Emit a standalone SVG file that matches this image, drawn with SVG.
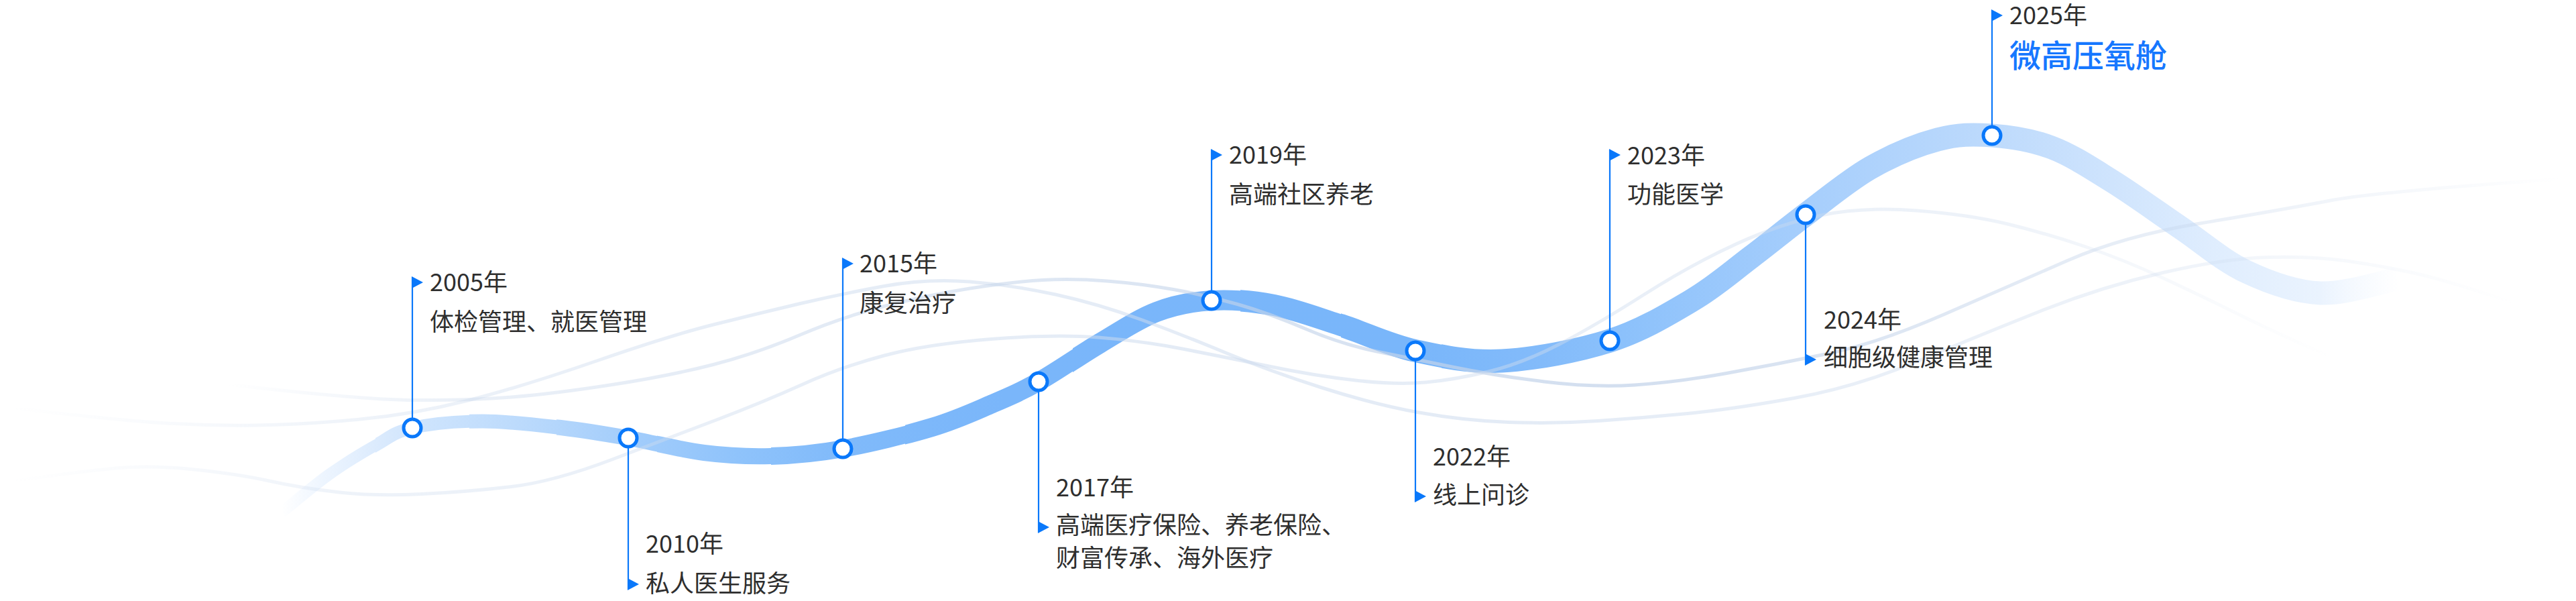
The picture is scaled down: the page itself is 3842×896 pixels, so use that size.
<svg xmlns="http://www.w3.org/2000/svg" width="3842" height="896" viewBox="0 0 3842 896">
<style>
  .t{font-family:"Noto Sans CJK SC","Noto Sans",sans-serif;font-size:36px;fill:#2e2e2e;}
  .ttl{font-family:"Noto Sans CJK SC","Noto Sans",sans-serif;font-size:47px;fill:#1677ff;font-weight:500;}
  .stem{stroke:#0a78fa;stroke-width:2.2;fill:none;}
  .dot{fill:#ffffff;stroke:#0a78fa;stroke-width:5;}
  .flag{fill:#0a78fa;}
  .bg{fill:none;stroke-width:5;stroke-linecap:round;}
</style>
<defs>
  <linearGradient id="gBand" gradientUnits="userSpaceOnUse" x1="420" y1="0" x2="3580" y2="0">
    <stop offset="0" stop-color="#e1eefe" stop-opacity="0"/>
    <stop offset="0.02" stop-color="#e1eefe" stop-opacity="0.6"/>
    <stop offset="0.044" stop-color="#dcebfd"/>
    <stop offset="0.062" stop-color="#d0e5fd"/>
    <stop offset="0.114" stop-color="#bbdafc"/>
    <stop offset="0.164" stop-color="#a3cdfb"/>
    <stop offset="0.215" stop-color="#8fc3fb"/>
    <stop offset="0.265" stop-color="#80bafa"/>
    <stop offset="0.342" stop-color="#7ab6fa"/>
    <stop offset="0.535" stop-color="#79b6fa"/>
    <stop offset="0.595" stop-color="#83bbfa"/>
    <stop offset="0.627" stop-color="#8ac0fb"/>
    <stop offset="0.719" stop-color="#a6cefc"/>
    <stop offset="0.807" stop-color="#bddafc"/>
    <stop offset="0.864" stop-color="#cfe4fd"/>
    <stop offset="0.911" stop-color="#dfedfe"/>
    <stop offset="0.962" stop-color="#eaf3fe"/>
    <stop offset="1" stop-color="#f2f8ff" stop-opacity="0"/>
  </linearGradient>
  <linearGradient id="gU1" gradientUnits="userSpaceOnUse" x1="18" y1="0" x2="3750" y2="0">
    <stop offset="0" stop-color="#cddbee" stop-opacity="0"/>
    <stop offset="0.06" stop-color="#cddbee" stop-opacity="0.12"/>
    <stop offset="0.15" stop-color="#cddbee" stop-opacity="0.35"/>
    <stop offset="0.3" stop-color="#cddbee" stop-opacity="0.5"/>
    <stop offset="0.6" stop-color="#cddbee" stop-opacity="0.55"/>
    <stop offset="0.85" stop-color="#cddbee" stop-opacity="0.35"/>
    <stop offset="1" stop-color="#cddbee" stop-opacity="0"/>
  </linearGradient>
  <linearGradient id="gU2" gradientUnits="userSpaceOnUse" x1="339" y1="0" x2="3818" y2="0">
    <stop offset="0" stop-color="#c4d4ea" stop-opacity="0"/>
    <stop offset="0.1" stop-color="#c4d4ea" stop-opacity="0.35"/>
    <stop offset="0.4" stop-color="#c4d4ea" stop-opacity="0.6"/>
    <stop offset="0.6" stop-color="#c4d4ea" stop-opacity="0.75"/>
    <stop offset="0.85" stop-color="#c4d4ea" stop-opacity="0.35"/>
    <stop offset="1" stop-color="#c4d4ea" stop-opacity="0"/>
  </linearGradient>
  <linearGradient id="gU3" gradientUnits="userSpaceOnUse" x1="18" y1="0" x2="3476" y2="0">
    <stop offset="0" stop-color="#cddbee" stop-opacity="0"/>
    <stop offset="0.06" stop-color="#cddbee" stop-opacity="0.12"/>
    <stop offset="0.15" stop-color="#cddbee" stop-opacity="0.35"/>
    <stop offset="0.5" stop-color="#cddbee" stop-opacity="0.55"/>
    <stop offset="0.85" stop-color="#cddbee" stop-opacity="0.35"/>
    <stop offset="1" stop-color="#cddbee" stop-opacity="0"/>
  </linearGradient>
  <path id="ribbon" d="M420,764 C431.7,754.7 466.7,724.7 490,708 C513.3,691.3 539.2,675.7 560,664 C580.8,652.3 588.3,644 615,638 C641.7,632 682.5,628 720,628 C757.5,628 803.8,633.8 840,638 C876.2,642.2 902,646.8 937,653 C972,659.2 1014.5,670.5 1050,675 C1085.5,679.5 1115.5,681 1150,680 C1184.5,679 1217,676.2 1257,669 C1297,661.8 1352.8,648.2 1390,637 C1427.2,625.8 1453.5,613.3 1480,602 C1506.5,590.7 1522.3,584 1549,569 C1575.7,554 1610.7,529.3 1640,512 C1669.3,494.7 1697.2,475.7 1725,465 C1752.8,454.3 1777.8,449.7 1807,448 C1836.2,446.3 1867.8,448.8 1900,455 C1932.2,461.2 1964.8,473.7 2000,485 C2035.2,496.3 2071,514.2 2111,523 C2151,531.8 2191.7,540.5 2240,538 C2288.3,535.5 2353.8,523 2401,508 C2448.2,493 2487.8,468.8 2523,448 C2558.2,427.2 2583.7,404.3 2612,383 C2640.3,361.7 2663.3,342.2 2693,320 C2722.7,297.8 2757.2,268.7 2790,250 C2822.8,231.3 2859.8,216 2890,208 C2920.2,200 2942.7,200 2971,202 C2999.3,204 3030.2,208.7 3060,220 C3089.8,231.3 3117.8,250 3150,270 C3182.2,290 3219.7,317.5 3253,340 C3286.3,362.5 3315.5,388.8 3350,405 C3384.5,421.2 3422.5,435.2 3460,437 C3497.5,438.8 3555.8,419.5 3575,416"/>
  <clipPath id="c1"><rect x="0" y="0" width="560" height="896"/></clipPath>
  <clipPath id="c2"><rect x="560" y="0" width="140" height="896"/></clipPath>
  <clipPath id="c3"><rect x="700" y="0" width="130" height="896"/></clipPath>
  <clipPath id="c4"><rect x="830" y="0" width="150" height="896"/></clipPath>
  <clipPath id="c5"><rect x="980" y="0" width="170" height="896"/></clipPath>
  <clipPath id="c6"><rect x="1150" y="0" width="200" height="896"/></clipPath>
  <clipPath id="c7"><rect x="1350" y="0" width="250" height="896"/></clipPath>
  <clipPath id="c8"><rect x="1600" y="0" width="250" height="896"/></clipPath>
  <clipPath id="c9"><rect x="1850" y="0" width="150" height="896"/></clipPath>
  <clipPath id="c10"><rect x="2000" y="0" width="150" height="896"/></clipPath>
  <clipPath id="c11"><rect x="2150" y="0" width="1692" height="896"/></clipPath>
</defs>

<rect x="0" y="0" width="3842" height="896" fill="#ffffff"/>

<g id="connectors" fill="none" stroke="url(#gBand)" stroke-linecap="butt">
  <use href="#ribbon" stroke-width="17" clip-path="url(#c1)"/>
  <use href="#ribbon" stroke-width="19" clip-path="url(#c2)"/>
  <use href="#ribbon" stroke-width="21" clip-path="url(#c3)"/>
  <use href="#ribbon" stroke-width="23" clip-path="url(#c4)"/>
  <use href="#ribbon" stroke-width="24" clip-path="url(#c5)"/>
  <use href="#ribbon" stroke-width="26" clip-path="url(#c6)"/>
  <use href="#ribbon" stroke-width="28" clip-path="url(#c7)"/>
  <use href="#ribbon" stroke-width="30" clip-path="url(#c8)"/>
  <use href="#ribbon" stroke-width="32" clip-path="url(#c9)"/>
  <use href="#ribbon" stroke-width="34" clip-path="url(#c10)"/>
  <use href="#ribbon" stroke-width="35" clip-path="url(#c11)"/>
</g>

<g id="background-lines">
  <path class="bg" stroke="url(#gU1)" d="M18,608 Q170,626 241,630.5 Q312,635 381,634 Q450,633 533,625.5 Q616,618 698,597 Q780,576 890,538 Q1000,500 1064,484 Q1128,468 1191.5,453 Q1255,438 1319,426.5 Q1383,415 1446.5,420 Q1510,425 1574,439 Q1638,453 1702,476.5 Q1766,500 1829.5,526.5 Q1893,553 1971.5,578 Q2050,603 2116.5,615 Q2183,627 2250,629.5 Q2317,632 2383.5,627.5 Q2450,623 2517,616.5 Q2584,610 2676,593.5 Q2768,577 2860,538.5 Q2952,500 3044,463.5 Q3136,427 3228,406 Q3320,385 3385,383.5 Q3450,382 3500,389 Q3550,396 3600,407 Q3650,418 3750,452"/>
  <path class="bg" stroke="url(#gU2)" d="M339,573 Q536,596 618,596.5 Q700,597 763,592 Q826,587 913,573.5 Q1000,560 1064,543.5 Q1128,527 1191.5,500 Q1255,473 1319,456.5 Q1383,440 1446.5,430 Q1510,420 1555,417.5 Q1600,415 1651,419 Q1702,423 1750,431.5 Q1798,440 1845.5,453.5 Q1893,467 1946.5,490 Q2000,513 2053.5,524 Q2107,535 2168.5,547.5 Q2230,560 2303,569 Q2376,578 2438,574 Q2500,570 2575,556.5 Q2650,543 2725,527.5 Q2800,512 2900,468.5 Q3000,425 3083.5,388.5 Q3167,352 3281.5,333 Q3396,314 3473,299.5 Q3550,285 3818,267"/>
  <path class="bg" stroke="url(#gU3)" d="M18,717 Q120,703 171.5,698 Q223,693 290,700 Q357,707 401.5,717 Q446,727 502,733.5 Q558,740 629,736.5 Q700,733 763,725.5 Q826,718 913,685 Q1000,652 1068.5,626 Q1137,600 1196,573.5 Q1255,547 1319,530 Q1383,513 1478.5,505.5 Q1574,498 1638,503 Q1702,508 1766,520.5 Q1830,533 1895,546.5 Q1960,560 2021.5,567 Q2083,574 2126.5,570 Q2170,566 2220,554 Q2270,542 2325,513.5 Q2380,485 2451.5,439.5 Q2523,394 2590,363.5 Q2657,333 2718.5,320.5 Q2780,308 2858.5,314 Q2937,320 2994.5,334 Q3052,348 3109.5,367.5 Q3167,387 3224,413.5 Q3281,440 3338.5,468.5 Q3396,497 3476,532"/>
</g>

<g id="node-2005">
  <line class="stem" x1="615" y1="413" x2="615" y2="638"/>
  <polygon class="flag" points="614,412 631,421 614,430"/>
  <circle class="dot" cx="615" cy="638" r="13"/>
  <text class="t" x="641" y="434">2005年</text>
  <text class="t" x="641" y="493">体检管理、就医管理</text>
</g>
<g id="node-2010">
  <line class="stem" x1="937" y1="653" x2="937" y2="879"/>
  <polygon class="flag" points="936,862 953,871 936,880"/>
  <circle class="dot" cx="937" cy="653" r="13"/>
  <text class="t" x="963" y="824">2010年</text>
  <text class="t" x="963" y="883">私人医生服务</text>
</g>
<g id="node-2015">
  <line class="stem" x1="1257" y1="385" x2="1257" y2="669"/>
  <polygon class="flag" points="1256,384 1273,393 1256,402"/>
  <circle class="dot" cx="1257" cy="669" r="13"/>
  <text class="t" x="1282" y="406">2015年</text>
  <text class="t" x="1282" y="465">康复治疗</text>
</g>
<g id="node-2017">
  <line class="stem" x1="1549" y1="569" x2="1549" y2="794"/>
  <polygon class="flag" points="1548,777 1565,786 1548,795"/>
  <circle class="dot" cx="1549" cy="569" r="13"/>
  <text class="t" x="1575" y="740">2017年</text>
  <text class="t" x="1575" y="796">高端医疗保险、养老保险、</text>
  <text class="t" x="1575" y="845">财富传承、海外医疗</text>
</g>
<g id="node-2019">
  <line class="stem" x1="1807" y1="223" x2="1807" y2="448"/>
  <polygon class="flag" points="1806,222 1823,231 1806,240"/>
  <circle class="dot" cx="1807" cy="448" r="13"/>
  <text class="t" x="1833" y="244">2019年</text>
  <text class="t" x="1833" y="303">高端社区养老</text>
</g>
<g id="node-2022">
  <line class="stem" x1="2111" y1="523" x2="2111" y2="748"/>
  <polygon class="flag" points="2110,731 2127,740 2110,749"/>
  <circle class="dot" cx="2111" cy="523" r="13"/>
  <text class="t" x="2137" y="694">2022年</text>
  <text class="t" x="2137" y="751">线上问诊</text>
</g>
<g id="node-2023">
  <line class="stem" x1="2401" y1="223" x2="2401" y2="508"/>
  <polygon class="flag" points="2400,222 2417,231 2400,240"/>
  <circle class="dot" cx="2401" cy="508" r="13"/>
  <text class="t" x="2427" y="245">2023年</text>
  <text class="t" x="2427" y="303">功能医学</text>
</g>
<g id="node-2024">
  <line class="stem" x1="2693" y1="320" x2="2693" y2="544"/>
  <polygon class="flag" points="2692,527 2709,536 2692,545"/>
  <circle class="dot" cx="2693" cy="320" r="13"/>
  <text class="t" x="2720" y="490">2024年</text>
  <text class="t" x="2720" y="546">细胞级健康管理</text>
</g>
<g id="node-2025">
  <line class="stem" x1="2971" y1="15" x2="2971" y2="202"/>
  <polygon class="flag" points="2970,14 2987,23 2970,32"/>
  <circle class="dot" cx="2971" cy="202" r="13"/>
  <text class="t" x="2997" y="36">2025年</text>
  <text class="ttl" x="2997" y="100">微高压氧舱</text>
</g>
</svg>
